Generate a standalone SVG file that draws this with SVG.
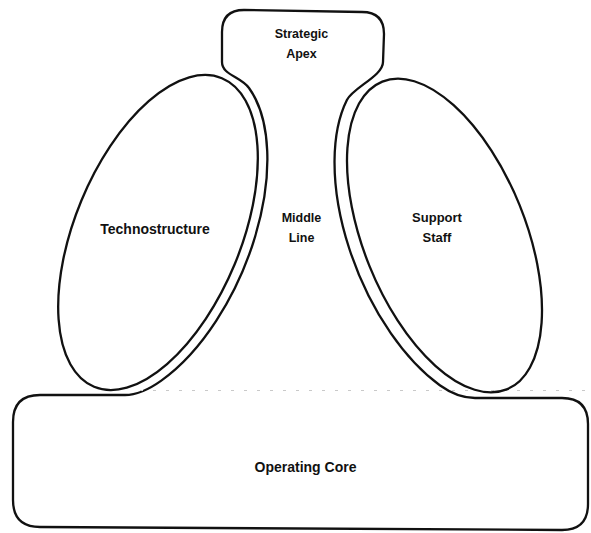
<svg xmlns="http://www.w3.org/2000/svg" width="591" height="533" viewBox="0 0 591 533">
  <style>
    .outline { fill: none; stroke: #111; stroke-width: 2.3; stroke-linejoin: round; stroke-linecap: round; }
    .lbl { font-family: "Liberation Sans", Arial, sans-serif; font-weight: bold; fill: #111; text-anchor: middle; }
    .scan { fill: none; stroke: #c9c9c9; stroke-width: 1.2; stroke-dasharray: 3 10; }
  </style>
  <rect x="0" y="0" width="591" height="533" fill="#ffffff"/>

  <g id="organization-outline">
    <path class="outline" d="M 222,32 Q 222,10 244,10 L 362,12 Q 384,12 384,34 L 383,62 C 383,76 353.1,87.5 346.9,100 A 94 179 -22 0 0 439.8,385.3 C 449.5,392.3 462,398 475,398 L 562,398 Q 588,398 588,424 L 588,504 Q 588,530 562,530 L 40,527 Q 13,527 13,500 L 13,422 Q 13,395 40,395 L 125,395 C 137,395 151.5,387.6 161.3,380.6 A 93 177 22.5 0 0 249,88 C 240.8,76.6 222,75 222,62 Z"/>
  </g>

  <line class="scan" x1="140" y1="390.5" x2="591" y2="390.5"/>

  <g id="strategic-apex">
    <text class="lbl" x="301.5" y="38" font-size="12.5">Strategic</text>
    <text class="lbl" x="301.5" y="58" font-size="12.5">Apex</text>
  </g>

  <g id="technostructure">
    <ellipse class="outline" cx="158" cy="232.5" rx="83" ry="167" transform="rotate(22.5 158 232.5)"/>
    <text class="lbl" x="155" y="234" font-size="14">Technostructure</text>
  </g>

  <g id="middle-line">
    <text class="lbl" x="301.5" y="222" font-size="12.5">Middle</text>
    <text class="lbl" x="301.5" y="242" font-size="12.5">Line</text>
  </g>

  <g id="support-staff">
    <ellipse class="outline" cx="444.5" cy="235.5" rx="81" ry="166" transform="rotate(-22 444.5 235.5)"/>
    <text class="lbl" x="437" y="222" font-size="13">Support</text>
    <text class="lbl" x="437" y="242" font-size="13">Staff</text>
  </g>

  <g id="operating-core">
    <text class="lbl" x="305.5" y="472" font-size="14">Operating Core</text>
  </g>

  <g id="connectors"></g>
</svg>
